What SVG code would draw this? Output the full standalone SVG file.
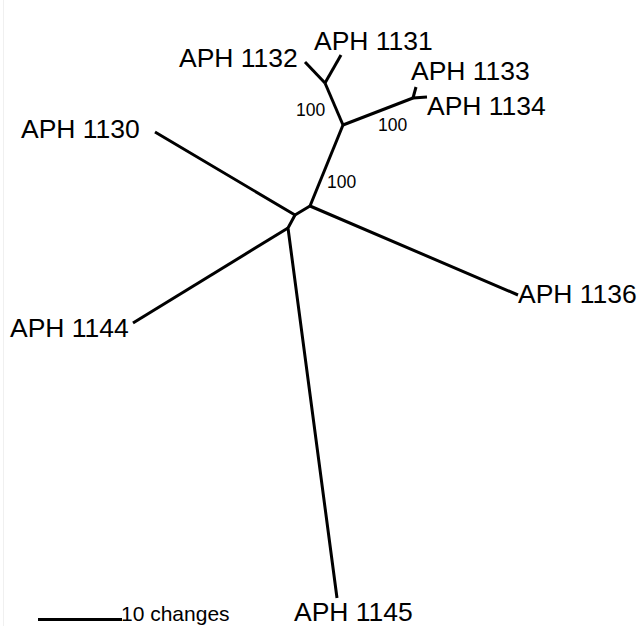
<svg xmlns="http://www.w3.org/2000/svg" width="642" height="626" viewBox="0 0 642 626">
<style>
.br{stroke:#000;stroke-width:3;fill:none;stroke-linecap:butt;stroke-linejoin:round}
.lab{font-family:"Liberation Sans",Arial,sans-serif;font-size:26.5px;fill:#000}
.bs{font-family:"Liberation Sans",Arial,sans-serif;font-size:17.5px;fill:#000}
.sc{font-family:"Liberation Sans",Arial,sans-serif;font-size:21px;fill:#000}
</style>
<rect width="642" height="626" fill="#fff"/>
<line x1="3.5" y1="0" x2="3.5" y2="626" stroke="#f0f0f0" stroke-width="1"/>
<g id="connectors">
<polyline class="br" points="155,132 295,215 310,206 518,295"/>
<line class="br" x1="310" y1="206" x2="343" y2="125"/>
<polyline class="br" points="295,215 288,228 337,598"/>
<line class="br" x1="288" y1="228" x2="133" y2="323"/>
<line class="br" x1="343" y1="125" x2="325" y2="83"/>
<line class="br" x1="325" y1="83" x2="305" y2="62"/>
<line class="br" x1="325" y1="83" x2="341" y2="55"/>
<line class="br" x1="343" y1="125" x2="413" y2="98"/>
<line class="br" x1="413" y1="98" x2="416" y2="87"/>
<line class="br" x1="413" y1="98" x2="427" y2="97"/>
</g>
<g id="n1130"><text class="lab" x="21" y="138">APH 1130</text></g>
<g id="n1131"><text class="lab" x="314" y="50">APH 1131</text></g>
<g id="n1132"><text class="lab" x="179" y="67">APH 1132</text></g>
<g id="n1133"><text class="lab" x="411" y="80">APH 1133</text></g>
<g id="n1134"><text class="lab" x="427" y="115">APH 1134</text></g>
<g id="n1136"><text class="lab" x="518" y="303">APH 1136</text></g>
<g id="n1144"><text class="lab" x="10" y="337">APH 1144</text></g>
<g id="n1145"><text class="lab" x="294" y="621">APH 1145</text></g>
<g id="support">
<text class="bs" x="296" y="116">100</text>
<text class="bs" x="378" y="131">100</text>
<text class="bs" x="327" y="188">100</text>
</g>
<g id="scale">
<line x1="38" y1="619.5" x2="122" y2="619.5" stroke="#000" stroke-width="3"/>
<text class="sc" x="121" y="621">10 changes</text>
</g>
</svg>
